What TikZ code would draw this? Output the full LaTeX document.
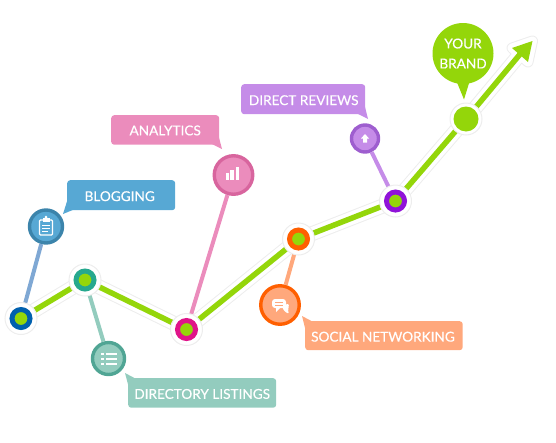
\documentclass[tikz,border=0pt]{standalone}
\usepackage{fontspec}
\usetikzlibrary{calc}
\setmainfont{Lato}[FakeBold=0.35]
\definecolor{gr}{HTML}{94D60A}
\definecolor{halo}{HTML}{EDEDED}
\definecolor{bluef}{HTML}{57A8D4}\definecolor{bluer}{HTML}{3C84AB}\definecolor{bluel}{HTML}{7FA8D4}\definecolor{bluen}{HTML}{0060AE}
\definecolor{tealf}{HTML}{93CCBE}\definecolor{tealr}{HTML}{50A594}\definecolor{tealn}{HTML}{26A88E}
\definecolor{pinkf}{HTML}{EB8CBC}\definecolor{pinkr}{HTML}{D8659E}\definecolor{pinkn}{HTML}{E0148A}
\definecolor{orf}{HTML}{FFA87C}\definecolor{orr}{HTML}{FF5F00}
\definecolor{puf}{HTML}{C58CE8}\definecolor{pur}{HTML}{9E5ECF}\definecolor{pun}{HTML}{9013D8}
\tikzset{
  x=1pt,y=-1pt,
  halod/.style={line width=15pt,halo},
  whitel/.style={line width=13pt,white},
  greenl/.style={line width=5.5pt,gr},
  stem/.style={line width=4pt},
  haloring/.style={circle,fill=white,draw=halo,line width=1pt,minimum size=32pt,inner sep=0pt},
  dotn/.style={circle,fill=gr,draw=#1,line width=5pt,minimum size=18pt,inner sep=0pt},
  iconb/.style 2 args={circle,fill=#1,draw=#2,line width=3.4pt,inner sep=0pt},
  lab/.style={fill=#1,rounded corners=3pt,text=white,inner sep=0pt,font=\fontsize{13.6}{13.6}\selectfont,anchor=north west,align=center},
  labt/.style={text=white,inner sep=0pt,font=\fontsize{13.6}{13.6}\selectfont},
}
\begin{document}
\begin{tikzpicture}
\useasboundingbox (0,0) rectangle (556,442);
% coordinates of the line
\coordinate (n1) at (21,318.5);
\coordinate (n2) at (85,280);
\coordinate (n3) at (186.5,329.5);
\coordinate (n4) at (298.5,239);
\coordinate (n5) at (395.5,201);
\coordinate (n6) at (466,119);
\coordinate (tip) at (521,53);
\coordinate (hA) at (512,48);
\coordinate (hB) at (532.5,41);
\coordinate (hC) at (528,62);
% halo + line
\draw[halod,line join=round] (n1)--(n2)--(n3)--(n4)--(n5)--(n6)--(tip);
\draw[halo,fill=halo,line width=11pt,line join=round] (hA) -- (hB) -- (hC) -- cycle;
\draw[whitel,line join=round] (n1)--(n2)--(n3)--(n4)--(n5)--(n6)--(tip);
\draw[white,fill=white,line width=9pt,line join=round] (hA) -- (hB) -- (hC) -- cycle;
\draw[greenl,line join=round] (n1)--(n2)--(n3)--(n4)--(n5)--(n6)--(tip);
\fill[gr] (hA) -- (hB) -- (hC) -- cycle;
% icon circles
\node[iconb={bluef}{bluer},minimum size=33pt] (cb) at (46,226.5) {};
\node[iconb={tealf}{tealr},minimum size=32pt] (cd) at (108.5,358.5) {};
\node[iconb={pinkf}{pinkr},minimum size=38.5pt] (ca) at (233.5,175) {};
\node[iconb={puf}{pur},minimum size=27pt] (cr) at (365,138.5) {};
\node[iconb={orf}{orr},minimum size=38.5pt] (cs) at (280,305) {};
% stems
\draw[stem,bluel] (cb) -- (n1);
\draw[stem,tealf] (cd) -- (n2);
\draw[stem,pinkf] (ca) -- (n3);
\draw[stem,orf] (cs) -- (n4);
\draw[stem,puf] (cr) -- (n5);
% path nodes
\node[haloring] (w1) at (n1) {}; \node[dotn=bluen] (d1) at (n1) {};
\node[haloring] (w2) at (n2) {}; \node[dotn=tealn] (d2) at (n2) {};
\node[haloring] (w3) at (n3) {}; \node[dotn=pinkn] (d3) at (n3) {};
\node[haloring] (w4) at (n4) {}; \node[dotn=orr] (d4) at (n4) {};
\node[haloring] (w5) at (n5) {}; \node[dotn=pun] (d5) at (n5) {};
\node[haloring] (w6) at (n6) {}; \node[circle,fill=gr,minimum size=25pt,inner sep=0pt] (d6) at (n6) {};
% labels
\fill[bluef] (69,195) -- (63,214) -- (80,207) -- cycle;
\node[lab=bluef,minimum width=108pt,minimum height=30pt] (lb) at (67,180) {};
\node[labt] (tb) at ($(lb.center)+(-1.5,1)$) {BLOGGING};
\fill[tealf] (130,392) -- (125,373) -- (142,382) -- cycle;
\node[lab=tealf,minimum width=148pt,minimum height=29.5pt] (ld) at (128,378) {};
\node[labt] (td) at ($(ld.center)+(0,1)$) {DIRECTORY LISTINGS};
\fill[pinkf] (217,130) -- (222,149) -- (206,141) -- cycle;
\node[lab=pinkf,minimum width=108pt,minimum height=29.5pt] (la) at (111,115) {};
\node[labt] (ta) at ($(la.center)+(0,0.5)$) {ANALYTICS};
\fill[puf] (363,99) -- (368,119) -- (352,111) -- cycle;
\node[lab=puf,minimum width=124pt,minimum height=30pt] (lr) at (241,84) {};
\node[labt] (tr) at ($(lr.center)+(0.5,1)$) {DIRECT REVIEWS};
\fill[orf] (307,336) -- (302,316) -- (319,325) -- cycle;
\node[lab=orf,minimum width=157.5pt,minimum height=29pt] (ls) at (305,321) {};
\node[labt] (ts) at ($(ls.center)+(-1,1)$) {SOCIAL NETWORKING};
% brand bubble
\fill[gr] (456,80) -- (464,99.5) -- (470,80) -- cycle;
\node[circle,fill=gr,minimum size=61pt,inner sep=0pt,text=white,align=center,font=\fontsize{13.6}{20}\selectfont] (brand) at (463,53.5) {YOUR\\BRAND};
% clipboard icon
\draw[white,line width=1.3pt,rounded corners=1pt] (39.5,220) rectangle (52.5,235);
\fill[white] (42.5,218) rectangle (49.5,222);
\fill[white] (46,217) circle (1.5pt);
\draw[white,line width=1pt] (42,225.5)--(50,225.5) (42,228.5)--(50,228.5) (42,231.5)--(47.5,231.5);
% list icon
\foreach \yy in {353.5,358.5,363.5}{
  \fill[white] (101,\yy-1) rectangle (103.5,\yy+1);
  \fill[white] (105.5,\yy-1) rectangle (116.5,\yy+1);
}
% bars icon
\fill[white] (226,172.5) rectangle (228.5,180);
\fill[white] (230,170) rectangle (233.5,180);
\fill[white] (235.5,166.5) rectangle (239,180);
% arrow-up icon
\fill[white] (365,134) -- (369,138.5) -- (367,138.5) -- (367,142.5) -- (363,142.5) -- (363,138.5) -- (361,138.5) -- cycle;
% speech icon
\fill[white,rounded corners=3pt] (272,299) rectangle (286,308);
\fill[white] (276,306) -- (276,312) -- (281,307) -- cycle;
\fill[white,rounded corners=1.5pt] (282,306) -- (289,303.5) -- (288,312) -- (289,314) -- (284,311) -- cycle;
\draw[orf,line width=.9pt] (275,302)--(283,302) (275,305)--(283,305);
\end{tikzpicture}
\end{document}
